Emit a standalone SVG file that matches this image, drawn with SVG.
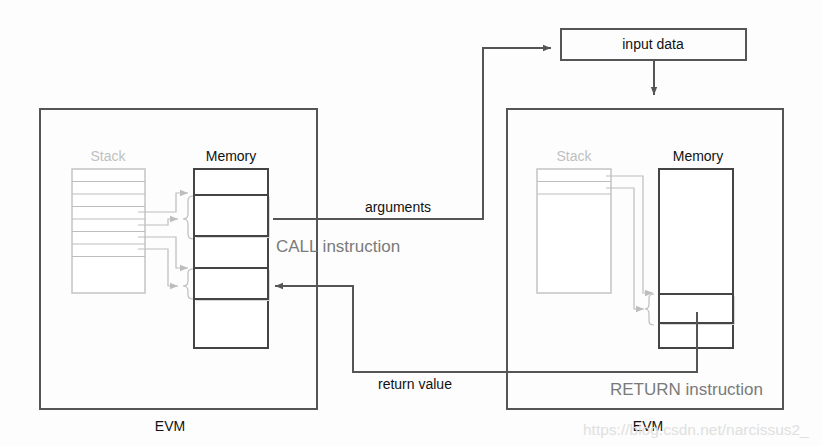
<svg xmlns="http://www.w3.org/2000/svg" width="823" height="446" viewBox="0 0 823 446">
<defs>
<style>
text{font-family:"Liberation Sans",Arial,sans-serif}
.box{fill:none;stroke:#555;stroke-width:2}
.mem{fill:#fff;stroke:#444;stroke-width:2}
.stk{fill:#fff;stroke:#c4c4c4;stroke-width:1.5}
.gl{fill:none;stroke:#bdbdbd;stroke-width:1.2}
.dl{fill:none;stroke:#555;stroke-width:2}
.sh{fill:#d8d8d8}
.lbl{font-size:14px;fill:#111}
.gray{fill:#7a7a7a;font-size:17px}
.light{fill:#c0c0c0;font-size:14px}
</style>
<marker id="ag" viewBox="0 0 10 10" refX="10" refY="5" markerWidth="8" markerHeight="8" markerUnits="userSpaceOnUse" orient="auto"><path d="M0,1 L10,5 L0,9 z" fill="#bdbdbd"/></marker>
<marker id="ad" viewBox="0 0 10 10" refX="10" refY="5" markerWidth="8" markerHeight="8" markerUnits="userSpaceOnUse" orient="auto"><path d="M0,1 L10,5 L0,9 z" fill="#555"/></marker>
</defs>
<rect width="823" height="446" fill="#fdfdfd"/>

<g id="evm-left">
<rect class="box" x="40" y="109" width="277" height="300"/>
<text x="170" y="431" text-anchor="middle" class="lbl" font-size="16.5">EVM</text>
</g>
<g id="evm-right">
<rect class="box" x="507" y="109" width="276" height="300"/>
<text x="648" y="431" text-anchor="middle" class="lbl" font-size="16.5">EVM</text>
</g>

<g id="input-data">
<rect class="box" x="561" y="29" width="185" height="31" fill="#fff"/>
<text x="653" y="49" text-anchor="middle" class="lbl" font-size="14.5">input data</text>
</g>

<g id="stack-left">
<text x="108" y="161" text-anchor="middle" class="light">Stack</text>
<rect class="stk" x="72" y="169" width="73" height="124"/>
<path class="gl" d="M72,181.5H145M72,194H145M72,206.5H145M72,219H145M72,231.5H145M72,244H145M72,256.5H145" stroke="#c4c4c4"/>
</g>

<g id="memory-left">
<text x="231" y="161" text-anchor="middle" class="lbl" font-size="15">Memory</text>
<rect class="mem" x="194" y="169" width="74" height="179"/>
<rect class="sh" x="196" y="197" width="74" height="41"/>
<rect class="mem" x="194" y="195" width="74" height="41"/>
<rect class="sh" x="196" y="270" width="74" height="31"/>
<rect class="mem" x="194" y="268" width="74" height="31"/>
</g>

<g id="stack-right">
<text x="574" y="161" text-anchor="middle" class="light">Stack</text>
<rect class="stk" x="537" y="169" width="74" height="124"/>
<path class="gl" d="M537,181.5H611M537,194H611" stroke="#c4c4c4"/>
</g>

<g id="memory-right">
<text x="698" y="161" text-anchor="middle" class="lbl" font-size="15">Memory</text>
<rect class="mem" x="659" y="169" width="74" height="179"/>
<rect class="sh" x="661" y="296" width="74" height="29"/>
<rect class="mem" x="659" y="294" width="74" height="29"/>
</g>

<g id="connectors">
<path class="gl" d="M138,212H176V193H188" marker-end="url(#ag)"/>
<path class="gl" d="M138,225H168V219H178" marker-end="url(#ag)"/>
<path class="gl" d="M138,237H176V268H188" marker-end="url(#ag)"/>
<path class="gl" d="M138,249H168V286H178" marker-end="url(#ag)"/>
<path class="gl" d="M193,196Q188,196 188,201V214Q188,219 183,219Q188,219 188,224V234Q188,239 193,239"/>
<path class="gl" d="M193,269Q188,269 188,273V281Q188,286 183,286Q188,286 188,291V295Q188,299 193,299"/>
<path class="gl" d="M606,176H643V293H653" marker-end="url(#ag)"/>
<path class="gl" d="M606,188H634V309H644" marker-end="url(#ag)"/>
<path class="gl" d="M654,294Q649,294 649,298V304Q649,309 645,309Q649,309 649,314V321Q649,325 654,325"/>
<path class="dl" d="M273,219H483V48H551" marker-end="url(#ad)"/>
<path class="dl" d="M654,61V95" marker-end="url(#ad)"/>
<path class="dl" d="M697,312V372H353V286H275" marker-end="url(#ad)"/>
</g>

<g id="labels">
<text x="398" y="212" text-anchor="middle" class="lbl" font-size="14">arguments</text>
<text x="276" y="252" class="gray">CALL instruction</text>
<text x="378" y="389" class="lbl" font-size="13.7">return value</text>
<text x="610" y="395" class="gray">RETURN instruction</text>
<text x="583" y="435" font-size="15.5" fill="#e0e0e0">https://blog.csdn.net/narcissus2_</text>
</g>
</svg>
